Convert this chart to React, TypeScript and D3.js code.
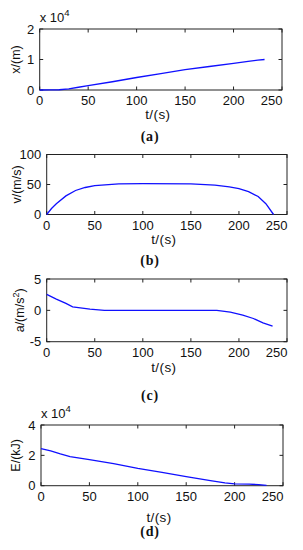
import React from 'react';
import * as d3 from 'd3';

// (a) displacement, x 10^4 m
const tPos = [0, 10, 20, 30, 40, 50, 75, 100, 125, 150, 175, 200, 215, 225, 232];
const posVals = [0, 0.002, 0.008, 0.04, 0.09, 0.14, 0.27, 0.41, 0.54, 0.67, 0.77, 0.87, 0.94, 0.98, 1.0];

// (b) velocity, m/s
const tVel = [0, 5, 10, 20, 30, 40, 50, 75, 100, 150, 175, 190, 200, 210, 220, 228, 236];
const velVals = [0, 10, 18, 31, 40, 45, 48, 51, 51.5, 51, 49, 46, 43, 38, 30, 18, 0];

// (c) acceleration, m/s^2
const tAcc = [0, 10, 20, 27, 35, 45, 60, 120, 177, 191, 204, 215, 225, 235];
const accVals = [2.55, 1.8, 1.1, 0.55, 0.4, 0.2, 0, 0, 0, -0.3, -0.75, -1.3, -2.0, -2.5];

// (d) energy, x 10^4 kJ
const tEn = [0, 10, 20, 30, 40, 50, 75, 100, 125, 150, 175, 190, 200, 215, 225, 233];
const enVals = [2.45, 2.3, 2.1, 1.92, 1.82, 1.72, 1.45, 1.14, 0.88, 0.6, 0.33, 0.18, 0.12, 0.1, 0.07, 0.02];

const tTicks = [0, 50, 100, 150, 200, 250];
const posTicks = [0, 1, 2];
const velTicks = [0, 50, 100];
const accTicks = [-5, 0, 5];
const enTicks = [0, 2, 4];

const FONT = '"Liberation Sans", Arial, Helvetica, sans-serif';
const INK = '#111';

interface PanelProps {
  t: number[];
  vals: number[];
  yTicks: number[];
  box: { l: number; r: number; t: number; b: number };
  ylabel: React.ReactNode;
  ylabelX: number;
  expY?: number;
  xlabelY: number;
  caption: string;
  captionY: number;
}

const Panel: React.FC<PanelProps> = ({ t, vals, yTicks, box, ylabel, ylabelX, expY, xlabelY, caption, captionY }) => {
  const x = d3.scaleLinear().domain([0, 250]).range([box.l, box.r]);
  const y = d3.scaleLinear().domain([yTicks[0], yTicks[yTicks.length - 1]]).range([box.b, box.t]);
  const line = d3.line<number>().x((_, i) => x(t[i])).y(d => y(d));
  const tl = 3.5;
  const midY = (box.t + box.b) / 2;
  const midX = (box.l + box.r) / 2;

  return (
    <g>
      <rect x={box.l} y={box.t} width={box.r - box.l} height={box.b - box.t} fill="#fff" stroke="#222" strokeWidth={1} />
      {tTicks.map(v => (
        <g key={'xt' + v}>
          <line x1={x(v)} x2={x(v)} y1={box.b} y2={box.b - tl} stroke="#222" />
          <line x1={x(v)} x2={x(v)} y1={box.t} y2={box.t + tl} stroke="#222" />
          <text x={v === 250 ? box.r + 0.5 : x(v)} y={box.b + 15} textAnchor={v === 250 ? 'end' : 'middle'}
            fontSize={13} fontFamily={FONT} fill={INK}>{v}</text>
        </g>
      ))}
      {yTicks.map(v => (
        <g key={'yt' + v}>
          <line x1={box.l} x2={box.l + tl} y1={y(v)} y2={y(v)} stroke="#222" />
          <line x1={box.r} x2={box.r - tl} y1={y(v)} y2={y(v)} stroke="#222" />
          <text x={box.l - 5.5} y={y(v) + 4.6} textAnchor="end" fontSize={13} fontFamily={FONT} fill={INK}>{v}</text>
        </g>
      ))}
      <path d={line(vals) || ''} fill="none" stroke="#1010ff" strokeWidth={1.3} />
      {expY !== undefined && (
        <text x={box.l} y={expY} fontSize={13} fontFamily={FONT} fill={INK}>
          x 10<tspan dy={-6} fontSize={9.5}>4</tspan>
        </text>
      )}
      <text transform={`translate(${ylabelX},${midY}) rotate(-90)`} textAnchor="middle" fontSize={12.5} fontFamily={FONT} fill={INK}>
        {ylabel}
      </text>
      <text x={midX - 3} y={xlabelY} textAnchor="middle" fontSize={13.5} letterSpacing={0.4} fontFamily={FONT} fill={INK}>t/(s)</text>
      <text x={150} y={captionY} textAnchor="middle" fontSize={14} fontWeight={600} letterSpacing={0.8}
        fontFamily='"Liberation Serif", "Times New Roman", serif' fill={INK}>{caption}</text>
    </g>
  );
};

const App: React.FC = () => {
  return (
    <svg width={303} height={550} style={{ position: 'absolute', left: 0, top: 0, background: '#fff' }}>
      <Panel t={tPos} vals={posVals} yTicks={posTicks}
        box={{ l: 39.7, r: 282, t: 29, b: 90 }}
        ylabel="x/(m)" ylabelX={20} expY={21.7} xlabelY={119} caption="(a)" captionY={141} />
      <Panel t={tVel} vals={velVals} yTicks={velTicks}
        box={{ l: 46.7, r: 287, t: 154.5, b: 214.5 }}
        ylabel="v/(m/s)" ylabelX={21} xlabelY={244} caption="(b)" captionY={264.5} />
      <Panel t={tAcc} vals={accVals} yTicks={accTicks}
        box={{ l: 46.7, r: 287, t: 279, b: 341.7 }}
        ylabel={<>a/(m/s<tspan dy={-5} fontSize={9}>2</tspan><tspan dy={5}>)</tspan></>}
        ylabelX={24} xlabelY={371.5} caption="(c)" captionY={400} />
      <Panel t={tEn} vals={enVals} yTicks={enTicks}
        box={{ l: 41, r: 283, t: 425, b: 485.7 }}
        ylabel="E/(kJ)" ylabelX={20} expY={418} xlabelY={522} caption="(d)" captionY={536} />
    </svg>
  );
};

export default App;
